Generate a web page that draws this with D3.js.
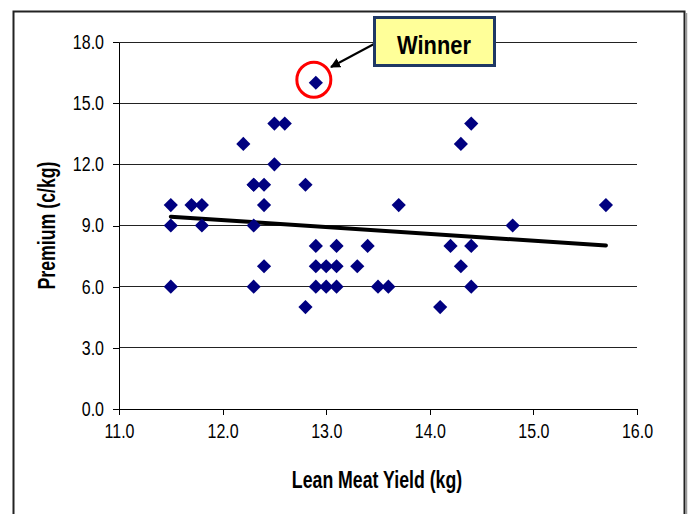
<html>
<head>
    <title>Premium vs Lean Meat Yield</title>
    <style type="text/css">
        body{
            margin: 0;
            background-color: #fff;
        }
        svg{
            display: block;
            background-color: #fff;
        }
        .axis path, .axis line{
            stroke: #000;
            stroke-width: 1px;
            shape-rendering: crispEdges;
        }
        .axis text{
            fill: #000;
            font-family: "Liberation Sans", Arial, sans-serif;
            font-size: 20px;
        }
        .grid line{
            stroke: #222;
            stroke-width: 1px;
            shape-rendering: crispEdges;
        }
        .title{
            font-family: "Liberation Sans", Arial, sans-serif;
            font-weight: bold;
            font-size: 23px;
            fill: #000;
        }
        .dot{
            fill: #000080;
        }
    </style>
    <script type="text/javascript" src="https://cdn.jsdelivr.net/npm/d3@7/dist/d3.min.js"></script>
</head>
<body>

    <div id="chart"></div>

    <script type="text/javascript">
        // data
        var yieldKg = [11.5, 11.5, 11.5, 11.7, 11.8, 11.8, 12.2, 12.3, 12.3, 12.3,
                       12.3, 12.4, 12.4, 12.4, 12.5, 12.5, 12.6, 12.8, 12.8, 12.9,
                       12.9, 12.9, 12.9, 13.0, 13.0, 13.1, 13.1, 13.1, 13.3, 13.4,
                       13.5, 13.6, 13.7, 14.1, 14.2, 14.3, 14.3, 14.4, 14.4, 14.4,
                       14.8, 15.7];
        var premium = [10, 9, 6, 10, 10, 9, 13, 11, 9, 6,
                       11, 11, 10, 7, 14, 12, 14, 11, 5, 16,
                       8, 7, 6, 7, 6, 8, 7, 6, 7, 8,
                       6, 6, 10, 5, 8, 13, 7, 14, 8, 6,
                       9, 10];
        var trendX = [11.5, 15.7];
        var trendY = [9.43, 8.02];
        var winner = [12.9, 16];
        var xTicks = [11, 12, 13, 14, 15, 16];
        var yTicks = [0, 3, 6, 9, 12, 15, 18];
        var xTitle = 'Lean Meat Yield (kg)';
        var yTitle = 'Premium (c/kg)';
        var calloutText = 'Winner';

        var width = 690, height = 514;
        var plot = {left: 119, right: 637, top: 42, bottom: 409};

        // squeeze text to look like a narrow face
        function narrow(sel, f) {
            sel.each(function(){
                var len = this.getComputedTextLength();
                d3.select(this)
                    .attr('textLength', len * f)
                    .attr('lengthAdjust', 'spacingAndGlyphs');
            });
        }

        var svg = d3.select('#chart')
            .append('svg')
            .attr('width', width)
            .attr('height', height);

        var defs = svg.append('defs');
        defs.append('marker')
            .attr('id', 'arrow')
            .attr('viewBox', '0 0 10 10')
            .attr('refX', 9)
            .attr('refY', 5)
            .attr('markerWidth', 5)
            .attr('markerHeight', 5)
            .attr('markerUnits', 'strokeWidth')
            .attr('orient', 'auto')
            .append('path')
            .attr('d', 'M0,0 L10,5 L0,10 z')
            .attr('fill', '#000');

        // outer frame
        svg.append('rect')
            .attr('x', 13.5)
            .attr('y', 11.5)
            .attr('width', 671)
            .attr('height', 530)
            .attr('fill', 'none')
            .attr('stroke', '#222')
            .attr('stroke-width', 2);
        svg.append('line')
            .attr('x1', 686.5).attr('x2', 686.5)
            .attr('y1', 13).attr('y2', 514)
            .attr('stroke', '#999')
            .attr('stroke-width', 1.5);

        var xScale = d3.scaleLinear()
            .domain([11, 16])
            .range([plot.left, plot.right]);

        var yScale = d3.scaleLinear()
            .domain([0, 18])
            .range([plot.bottom, plot.top]);

        // horizontal gridlines
        svg.append('g')
            .attr('class', 'grid')
            .selectAll('line')
            .data(yTicks.filter(function(d){ return d > 0; }))
            .enter()
            .append('line')
            .attr('x1', plot.left)
            .attr('x2', plot.right)
            .attr('y1', function(d){ return yScale(d); })
            .attr('y2', function(d){ return yScale(d); });

        var xAxis = d3.axisBottom(xScale)
            .tickValues(xTicks)
            .tickSizeInner(6)
            .tickSizeOuter(0)
            .tickPadding(9)
            .tickFormat(d3.format('.1f'));
        var yAxis = d3.axisLeft(yScale)
            .tickValues(yTicks)
            .tickSizeInner(6)
            .tickSizeOuter(0)
            .tickPadding(9)
            .tickFormat(d3.format('.1f'));

        svg.append('g')
            .attr('class', 'axis')
            .attr('transform', 'translate(0,' + plot.bottom + ')')
            .call(xAxis)
            .selectAll('text').call(narrow, 0.8);
        svg.append('g')
            .attr('class', 'axis')
            .attr('transform', 'translate(' + plot.left + ',0)')
            .call(yAxis)
            .selectAll('text').call(narrow, 0.8);

        // axis titles
        svg.append('text')
            .attr('class', 'title')
            .attr('x', 377)
            .attr('y', 488)
            .attr('text-anchor', 'middle')
            .text(xTitle)
            .call(narrow, 0.77);
        svg.append('text')
            .attr('class', 'title')
            .attr('transform', 'translate(55,' + ((plot.top + plot.bottom) / 2) + ') rotate(-90)')
            .attr('text-anchor', 'middle')
            .text(yTitle)
            .call(narrow, 0.77);

        // trend line
        svg.append('line')
            .attr('x1', xScale(trendX[0]))
            .attr('y1', yScale(trendY[0]))
            .attr('x2', xScale(trendX[1]))
            .attr('y2', yScale(trendY[1]))
            .attr('stroke', '#000')
            .attr('stroke-width', 4)
            .attr('stroke-linecap', 'round');

        // diamonds
        var diamond = d3.symbol().type(d3.symbolDiamond2).size(128);
        svg.selectAll('.dot')
            .data(yieldKg)
            .enter()
            .append('path')
            .attr('class', 'dot')
            .attr('d', diamond)
            .attr('transform', function(d, i){
                return 'translate(' + xScale(d) + ',' + yScale(premium[i]) + ')';
            });

        // winner callout
        svg.append('ellipse')
            .attr('cx', xScale(winner[0]) - 2)
            .attr('cy', yScale(winner[1]) - 3)
            .attr('rx', 17)
            .attr('ry', 17.5)
            .attr('fill', 'none')
            .attr('stroke', '#f00')
            .attr('stroke-width', 3);

        svg.append('line')
            .attr('x1', 374)
            .attr('y1', 44)
            .attr('x2', 331)
            .attr('y2', 67)
            .attr('stroke', '#000')
            .attr('stroke-width', 2)
            .attr('marker-end', 'url(#arrow)');

        svg.append('rect')
            .attr('x', 374.5)
            .attr('y', 17.5)
            .attr('width', 120)
            .attr('height', 48)
            .attr('fill', '#ffff99')
            .attr('stroke', '#1f3864')
            .attr('stroke-width', 3);
        svg.append('text')
            .attr('class', 'title')
            .style('font-size', '26px')
            .attr('x', 434)
            .attr('y', 54)
            .attr('text-anchor', 'middle')
            .text(calloutText)
            .call(narrow, 0.84);
    </script>

</body>
</html>
